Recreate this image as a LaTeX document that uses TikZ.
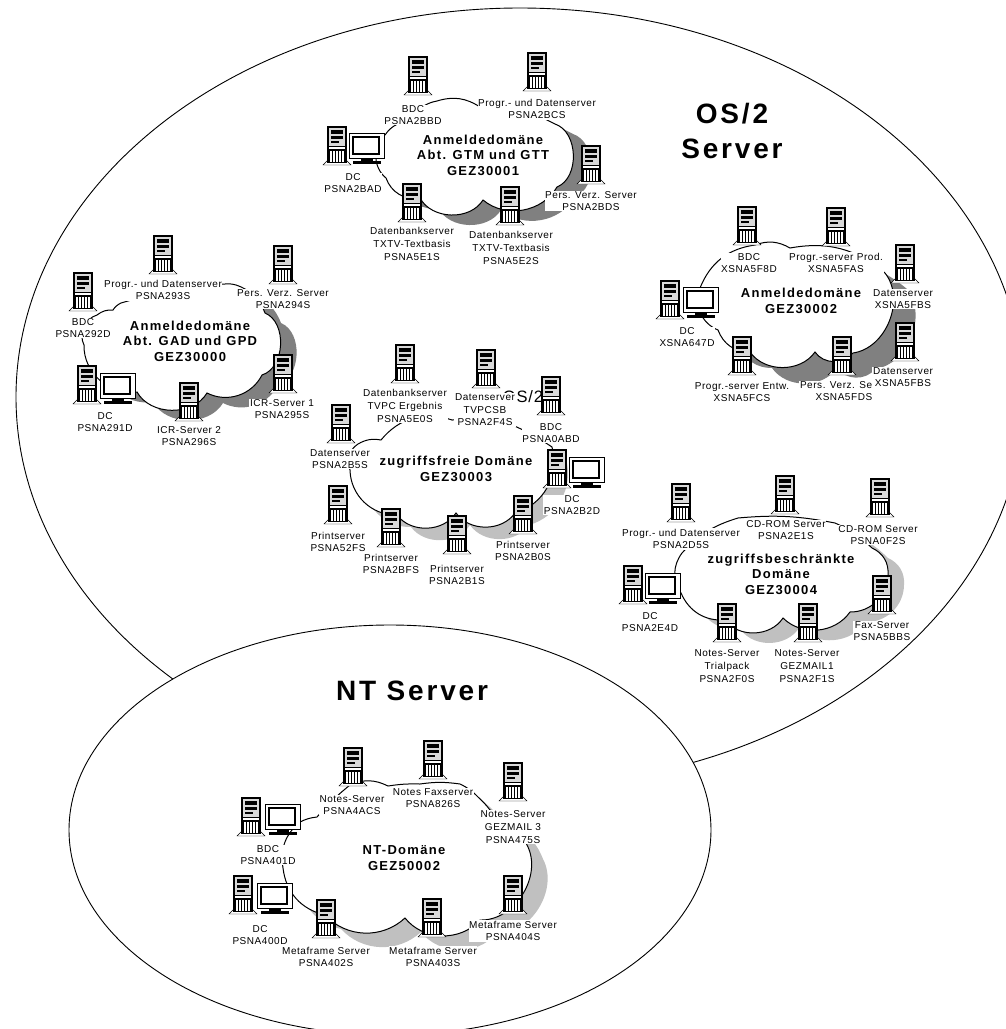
\documentclass[tikz,border=0pt]{standalone}
\usepackage{fontspec}
\setmainfont[LetterSpace=5.5]{Liberation Sans}
\newfontfamily\titlefont[LetterSpace=10]{Liberation Sans}
\usepackage{xcolor}
\usetikzlibrary{positioning}
\definecolor{shadedark}{RGB}{128, 128, 128}
\definecolor{shadelight}{RGB}{192, 192, 192}
\tikzset{
    server/.pic={
        \draw[black, fill=white] (-14,19) -- (-9,14) -- (9,14) -- (14,19) -- cycle;
        \fill[black] (-10,-20) rectangle (10,17);
        \fill[white!85!black] (-8,-18) rectangle (8,0);
        \fill[black] (-6,-16) rectangle (6,-12);
        \fill[black] (-6,-10) rectangle (6,-7);
        \fill[black] (-6,-5) rectangle (2,-3);
        \fill[white] (-8,1) rectangle (8,3);
        \foreach \gx in {-6,-3,0,3,6} \fill[white] (\gx-0.6,5) rectangle (\gx+0.6,15.5);
    },
    screen/.pic={
        \draw[black, fill=white, line width=1pt] (-18,-15) rectangle (17,10);
        \draw[black, fill=white, line width=2.6pt] (-14,-11) rectangle (12,6);
        \fill[black] (-6,10) rectangle (6,13);
        \fill[black] (-14,13) rectangle (14,15.5);
    }
}
\newcommand{\domaincloud}[3]{%
    \fill[#1, shift={(#2)}] #3 -- cycle;
    \draw[cloudline] #3 -- cycle;}
\begin{document}
\begin{tikzpicture}[
        x=1pt, y=-1pt,
        ground/.style={draw=black, fill=white, line width=0.9pt},
        cloudline/.style={draw=black, fill=white, line width=1pt},
        lbl/.style={fill=white, inner sep=0.6pt, align=center, font=\fontsize{10}{12.6}\selectfont},
        domaintitle/.style={align=center, font=\titlefont\bfseries\fontsize{13}{15.5}\selectfont},
        bigtitle/.style={font=\titlefont\bfseries\fontsize{28}{35}\selectfont}
    ]
        \useasboundingbox (0,0) rectangle (1005,1029);
        \draw[ground] (520,397) ellipse [x radius=504, y radius=389];
        \draw[ground] (390,830) ellipse [x radius=321, y radius=205];
        \node[bigtitle, align=center] (osserver) at (732,131) {OS/2\\Server};
        \node[bigtitle] (ntserver) at (412,691) {NT Server};
        \node[font=\fontsize{16.5}{18}\selectfont] (ostwo) at (523,397) {OS/2};

        % clouds
        \domaincloud{shadedark}{18,10}{(386,178) to[bend left=50] (385,135) to[bend left=30] (412,122) to[bend left=30] (437,101) to[bend left=25] (480,107) to[bend left=15] (555,124) to[bend left=70] (557,187) to[bend left=50] (483,200) to[bend left=60] (420,198) to[bend left=40] (386,178)}
        \domaincloud{shadedark}{16,10}{(84,345) to[bend left=50] (97,315) to[bend left=20] (113,310) to[bend left=15] (121,303) to[bend left=6] (225,284) to[bend left=10] (236,285) to[bend left=25] (265,313) to[bend left=70] (262,375) to[bend left=45] (207,393) to[bend left=60] (137,392) to[bend left=50] (84,345)}
        \domaincloud{shadedark}{22,16}{(718,330) to[bend left=45] (700,288) to[bend left=30] (755,245) to[bend left=25] (790,248) to[bend left=25] (885,273) to[bend left=60] (853,353) to[bend left=55] (815,352) to[bend left=55] (750,352) to[bend left=35] (718,330)}
        \domaincloud{shadelight}{14,12}{(350,470) to[bend left=40] (358,444) to[bend left=20] (381,440) to[bend left=35] (452,420) to[bend left=5] (510,424) to[bend left=5] (552,447) to[bend left=45] (515,513) to[bend left=55] (456,513) to[bend left=55] (397,515) to[bend left=45] (350,470)}
        \domaincloud{shadelight}{16,10}{(681,593) to[bend left=35] (682,553) to[bend left=15] (738,518) to[bend left=8] (835,523) to[bend left=10] (872,548) to[bend left=35] (888,575) to[bend left=45] (850,612) to[bend left=50] (783,618) to[bend left=55] (725,620) to[bend left=35] (681,593)}
        \domaincloud{shadelight}{16,14}{(283,868) to[bend left=30] (300,822) to[bend left=10] (317,817) to[bend left=5] (350,785) to[bend left=25] (388,786) to[bend left=5] (420,784) to[bend left=8] (460,784) to[bend left=10] (478,797) to[bend left=5] (490,810) to[bend left=25] (527,845) to[bend left=60] (480,920) to[bend left=50] (405,918) to[bend left=45] (325,915) to[bend left=35] (283,868)}

        % labels
        \node[lbl] (bbd) at (413,115) {BDC\\PSNA2BBD};
        \node[lbl] (bcs) at (537,109) {Progr.- und Datenserver\\PSNA2BCS};
        \node[lbl] (bad) at (353,183) {DC\\PSNA2BAD};
        \node[lbl] (e1s) at (412,244) {Datenbankserver\\TXTV-Textbasis\\PSNA5E1S};
        \node[lbl] (e2s) at (511,248) {Datenbankserver\\TXTV-Textbasis\\PSNA5E2S};
        \node[lbl] (bds) at (591,201) {Pers. Verz. Server\\PSNA2BDS};

        \node[lbl] (s293) at (163,290) {Progr.- und Datenserver\\PSNA293S};
        \node[lbl] (s294) at (283,299) {Pers. Verz. Server\\PSNA294S};
        \node[lbl] (d292) at (83,328) {BDC\\PSNA292D};
        \node[lbl] (d291) at (105,422) {DC\\PSNA291D};
        \node[lbl] (s296) at (189,436) {ICR-Server 2\\PSNA296S};
        \node[lbl] (s295) at (282,409) {ICR-Server 1\\PSNA295S};

        \node[lbl] (f8d) at (749,263) {BDC\\XSNA5F8D};
        \node[lbl] (fas) at (836,263) {Progr.-server Prod.\\XSNA5FAS};
        \node[lbl] (fbsa) at (903,299) {Datenserver\\XSNA5FBS};
        \node[lbl] (a647) at (687,337) {DC\\XSNA647D};
        \node[lbl] (fcs) at (742,392) {Progr.-server Entw.\\XSNA5FCS};
        \node[lbl, align=right, anchor=east] (fds) at (873,391) {Pers. Verz. Se\\XSNA5FDS};
        \node[lbl] (fbsb) at (903,377) {Datenserver\\XSNA5FBS};

        \node[lbl] (e0s) at (405,406) {Datenbankserver\\TVPC Ergebnis\\PSNA5E0S};
        \node[lbl] (f4s) at (485,410) {Datenserver\\TVPCSB\\PSNA2F4S};
        \node[lbl] (abd) at (551,433) {BDC\\PSNA0ABD};
        \node[lbl] (b5s) at (340,459) {Datenserver\\PSNA2B5S};
        \node[lbl] (b2d) at (572,505) {DC\\PSNA2B2D};
        \node[lbl] (s52f) at (338,542) {Printserver\\PSNA52FS};
        \node[lbl] (bfs) at (391,564) {Printserver\\PSNA2BFS};
        \node[lbl] (b1s) at (457,575) {Printserver\\PSNA2B1S};
        \node[lbl] (b0s) at (523,551) {Printserver\\PSNA2B0S};

        \node[lbl] (d5s) at (681,539) {Progr.- und Datenserver\\PSNA2D5S};
        \node[lbl] (e1srom) at (786,530) {CD-ROM Server\\PSNA2E1S};
        \node[lbl] (f2s) at (878,535) {CD-ROM Server\\PSNA0F2S};
        \node[lbl] (e4d) at (650,622) {DC\\PSNA2E4D};
        \node[lbl] (f0s) at (727,666) {Notes-Server\\Trialpack\\PSNA2F0S};
        \node[lbl] (f1s) at (807,666) {Notes-Server\\GEZMAIL1\\PSNA2F1S};
        \node[lbl] (bbs) at (882,631) {Fax-Server\\PSNA5BBS};

        \node[lbl] (acs) at (352,805) {Notes-Server\\PSNA4ACS};
        \node[lbl] (s826) at (433,798) {Notes Faxserver\\PSNA826S};
        \node[lbl] (s475) at (513,827) {Notes-Server\\GEZMAIL 3\\PSNA475S};
        \node[lbl] (d401) at (268,855) {BDC\\PSNA401D};
        \node[lbl] (d400) at (260,935) {DC\\PSNA400D};
        \node[lbl] (s402) at (326,957) {Metaframe Server\\PSNA402S};
        \node[lbl] (s403) at (433,957) {Metaframe Server\\PSNA403S};
        \node[lbl] (s404) at (513,931) {Metaframe Server\\PSNA404S};

        % domain names
        \node[domaintitle] (gez1) at (483,155) {Anmeldedomäne\\Abt. GTM und GTT\\GEZ30001};
        \node[domaintitle] (gez0) at (190,341) {Anmeldedomäne\\Abt. GAD und GPD\\GEZ30000};
        \node[domaintitle] (gez2) at (801,301) {Anmeldedomäne\\GEZ30002};
        \node[domaintitle] (gez3) at (456,469) {zugriffsfreie Domäne\\GEZ30003};
        \node[domaintitle] (gez4) at (781,574) {zugriffsbeschränkte\\Domäne\\GEZ30004};
        \node[domaintitle] (gez5) at (404,858) {NT-Domäne\\GEZ50002};

        % icons
        \foreach \px/\py in {418/76, 537/72, 337/146, 412/203, 510/206, 591/165,
                163/255, 283/265, 83/292, 87/385, 189/402, 283/374,
                747/226, 836/227, 905/264, 905/342, 670/300, 742/356, 842/356,
                405/364, 486/369, 551/396, 341/424, 557/469, 338/505, 391/528, 457/535, 523/515,
                681/503, 785/495, 880/498, 633/585, 727/623, 808/623, 882/595,
                353/767, 433/760, 513/782, 251/817, 243/895, 326/919, 432/918, 513/895}
            \pic at (\px,\py) {server};
        \foreach \px/\py in {367/148, 118/388, 701/302, 587/472, 663/588, 283/819, 275/898}
            \pic at (\px,\py) {screen};
    \end{tikzpicture}
\end{document}
